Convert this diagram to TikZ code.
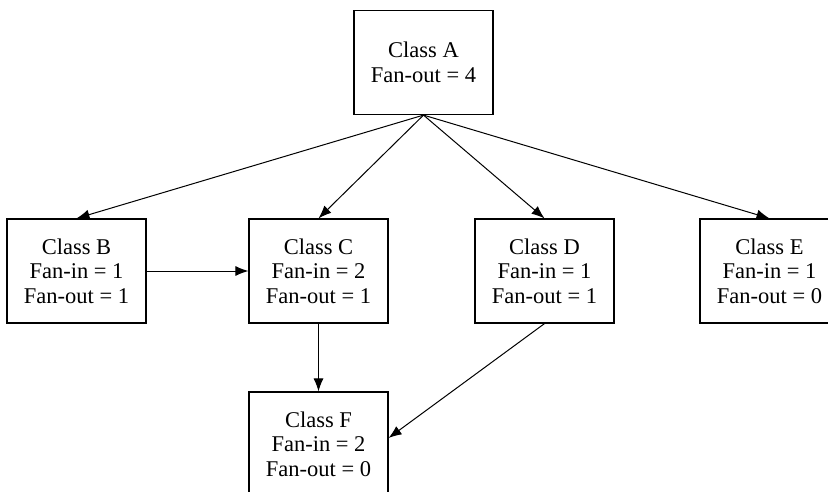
\documentclass[tikz,border=0pt]{standalone}
\usepackage{fontspec}
\setmainfont{Liberation Serif}
\usetikzlibrary{arrows.meta,calc}
\begin{document}
\begin{tikzpicture}[x=1pt,y=-1pt,
  classbox/.style={draw,line width=1.2pt,rectangle,minimum width=139pt,minimum height=104pt,
    align=center,inner sep=0pt,font=\fontsize{22.5}{24.5}\selectfont},
  link/.style={line width=1pt,-{Latex[length=13pt,width=10pt]}}]
\useasboundingbox (0,0) rectangle (828,492);
\node[classbox] (A) at (423.5,62.5) {Class A\\Fan-out = 4};
\node[classbox] (B) at (76.5,271) {Class B\\Fan-in = 1\\Fan-out = 1};
\node[classbox] (C) at (318.5,271) {Class C\\Fan-in = 2\\Fan-out = 1};
\node[classbox] (D) at (544.5,271) {Class D\\Fan-in = 1\\Fan-out = 1};
\node[classbox] (E) at (769.5,271) {Class E\\Fan-in = 1\\Fan-out = 0};
\node[classbox] (F) at (318.5,444) {Class F\\Fan-in = 2\\Fan-out = 0};
\draw[link] (A.south) -- (B.north);
\draw[link] (A.south) -- (C.north);
\draw[link] (A.south) -- (D.north);
\draw[link] (A.south) -- (E.north);
\draw[link] (B.east) -- (C.west);
\draw[link] (C.south) -- (F.north);
\draw[link] (D.south) -- ($(F.east)+(0,-6)$);
\end{tikzpicture}
\end{document}
